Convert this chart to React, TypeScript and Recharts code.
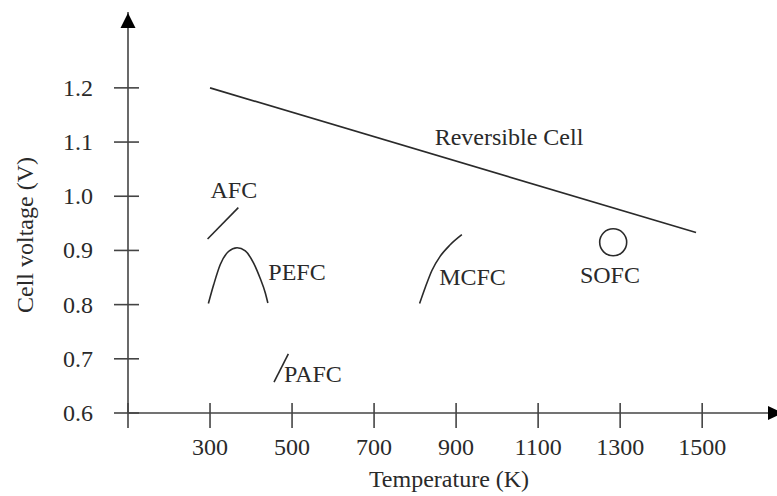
import React from "react";
import {
  ComposedChart,
  Line,
  Scatter,
  XAxis,
  YAxis,
  ReferenceDot,
} from "recharts";

// temperature (K) / cell voltage (V)
const reversibleCell = [
  { t: 300, v: 1.2 },
  { t: 1485, v: 0.933 },
];
const afc = [
  { t: 294, v: 0.921 },
  { t: 369, v: 0.979 },
];
const pefc = [
  { t: 296, v: 0.802 },
  { t: 309, v: 0.837 },
  { t: 325, v: 0.874 },
  { t: 345, v: 0.898 },
  { t: 366, v: 0.905 },
  { t: 386, v: 0.899 },
  { t: 406, v: 0.877 },
  { t: 422, v: 0.849 },
  { t: 435, v: 0.821 },
  { t: 441, v: 0.803 },
];
const pafc = [
  { t: 456, v: 0.657 },
  { t: 491, v: 0.709 },
];
const mcfc = [
  { t: 811, v: 0.802 },
  { t: 825, v: 0.832 },
  { t: 841, v: 0.863 },
  { t: 861, v: 0.889 },
  { t: 885, v: 0.91 },
  { t: 914, v: 0.929 },
];
const sofc = [{ t: 1283, v: 0.915 }];

const cellLabels = [
  { t: 1029, v: 1.095, name: "Reversible Cell" },
  { t: 358, v: 0.997, name: "AFC" },
  { t: 512, v: 0.846, name: "PEFC" },
  { t: 551, v: 0.658, name: "PAFC" },
  { t: 940, v: 0.837, name: "MCFC" },
  { t: 1275, v: 0.839, name: "SOFC" },
];

const temperatureTicks = [100, 300, 500, 700, 900, 1100, 1300, 1500];
const voltageTicks = [0.6, 0.7, 0.8, 0.9, 1.0, 1.1, 1.2];

const FONT = '"Liberation Serif", "Times New Roman", serif';
const FS = 24;
const INK = "#2a2a2a";
const AXIS = "#444";

const XTick = (props: any) => {
  const { x, y, payload } = props;
  return (
    <g>
      <line x1={x} y1={y - 10} x2={x} y2={y + 15} stroke={AXIS} strokeWidth={1.6} />
      {payload.value !== 100 && (
        <text x={x} y={y + 42} textAnchor="middle" fontFamily={FONT} fontSize={FS} fill={INK}>
          {payload.value}
        </text>
      )}
    </g>
  );
};

const YTick = (props: any) => {
  const { x, y, payload } = props;
  return (
    <g>
      <line x1={x - 14} y1={y} x2={x + 11} y2={y} stroke={AXIS} strokeWidth={1.6} />
      <text
        x={x - 35}
        y={y}
        textAnchor="end"
        dominantBaseline="central"
        fontFamily={FONT}
        fontSize={FS}
        fill={INK}
      >
        {payload.value.toFixed(1)}
      </text>
    </g>
  );
};

const CellLabel = (props: any) => {
  const { cx, cy, payload } = props;
  return (
    <text x={cx} y={cy} textAnchor="middle" fontFamily={FONT} fontSize={FS} fill={INK}>
      {payload.name}
    </text>
  );
};

const Ring = (props: any) => {
  const { cx, cy } = props;
  return <circle cx={cx} cy={cy} r={13.5} fill="none" stroke={INK} strokeWidth={1.6} />;
};

const UpArrow = (props: any) => {
  const { cx, cy } = props;
  return <path d={`M${cx},${cy + 1} L${cx - 7.5},${cy + 16} L${cx + 7.5},${cy + 16} Z`} fill="#000" />;
};

const RightArrow = (props: any) => {
  const { cx, cy } = props;
  return <path d={`M${cx - 8},${cy - 7} L${cx + 7},${cy} L${cx - 8},${cy + 7} Z`} fill="#000" />;
};

export default function App() {
  return (
    <div style={{ position: "absolute", left: 0, top: 0, background: "#fff" }}>
      <ComposedChart
        width={777}
        height={496}
        margin={{ top: 12, right: 1, left: 28, bottom: 23 }}
      >
        <XAxis
          dataKey="t"
          type="number"
          domain={[100, 1680]}
          ticks={temperatureTicks}
          interval={0}
          tickSize={0}
          tickMargin={0}
          tickLine={false}
          tick={<XTick />}
          height={60}
          axisLine={{ stroke: AXIS, strokeWidth: 1.6 }}
          allowDataOverflow
          label={(p: any) => (
            <text
              x={p.viewBox.x + 321}
              y={p.viewBox.y + 74}
              textAnchor="middle"
              fontFamily={FONT}
              fontSize={FS}
              fill={INK}
            >
              Temperature (K)
            </text>
          )}
        />
        <YAxis
          dataKey="v"
          type="number"
          domain={[0.6, 1.34]}
          ticks={voltageTicks}
          interval={0}
          tickSize={0}
          tickMargin={0}
          tickLine={false}
          tick={<YTick />}
          width={100}
          axisLine={{ stroke: AXIS, strokeWidth: 1.6 }}
          allowDataOverflow
          label={() => (
            <text
              x={33}
              y={235}
              transform="rotate(-90, 33, 235)"
              textAnchor="middle"
              fontFamily={FONT}
              fontSize={FS}
              fill={INK}
            >
              Cell voltage (V)
            </text>
          )}
        />
        <ReferenceDot x={100} y={1.34} r={0} shape={<UpArrow />} ifOverflow="visible" />
        <ReferenceDot x={1680} y={0.6} r={0} shape={<RightArrow />} ifOverflow="visible" />

        <Line data={reversibleCell} dataKey="v" type="linear" stroke={INK} strokeWidth={1.6} dot={false} isAnimationActive={false} />
        <Line data={afc} dataKey="v" type="linear" stroke={INK} strokeWidth={1.6} dot={false} isAnimationActive={false} />
        <Line data={pefc} dataKey="v" type="monotoneX" stroke={INK} strokeWidth={1.6} dot={false} isAnimationActive={false} />
        <Line data={pafc} dataKey="v" type="linear" stroke={INK} strokeWidth={1.6} dot={false} isAnimationActive={false} />
        <Line data={mcfc} dataKey="v" type="monotoneX" stroke={INK} strokeWidth={1.6} dot={false} isAnimationActive={false} />
        <Scatter data={sofc} dataKey="v" shape={<Ring />} isAnimationActive={false} />
        <Scatter data={cellLabels} dataKey="v" shape={<CellLabel />} isAnimationActive={false} />
      </ComposedChart>
    </div>
  );
}
